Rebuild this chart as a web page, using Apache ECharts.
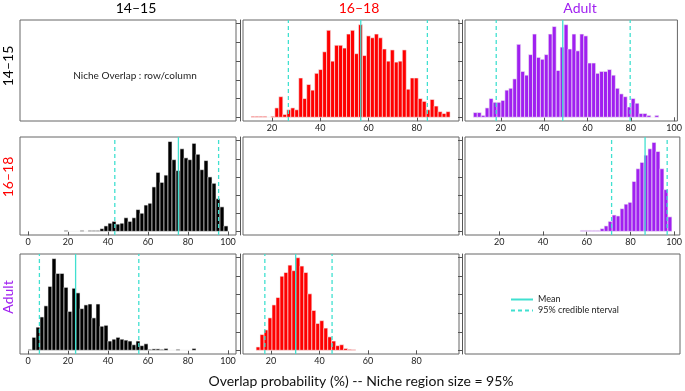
<!DOCTYPE html>
<html>
<head>
<meta charset="utf-8">
<script src="https://cdn.jsdelivr.net/npm/echarts@6/dist/echarts.min.js"></script>
<style>
    html, body { margin: 0; padding: 0; background: #fff; }
    #main { width: 685px; height: 391px; }
</style>
</head>
<body>
<div id="main"></div>
<script>
// 分组名称与颜色
const groupNames = ['14–15', '16–18', 'Adult'];
const groupColors = ['#000000', '#FF0000', '#A020F0'];

// 刻度
const yTicks = [0, 20, 40, 60, 80, 100];
const xTicksCol0 = [0, 20, 40, 60, 80, 100];
const xTicksCol1 = [20, 40, 60, 80];
const xTicksCol2 = [20, 40, 60, 80, 100];

// 行14-15 / 列16-18
const h01Start = 11.3, h01Width = 1.65;
const h01Counts = [1, 1, 1, 1, 0, 1, 10, 22, 3, 8, 10, 8, 42, 20, 35, 29, 47, 51, 70, 93,
    60, 77, 77, 74, 89, 93, 68, 99, 66, 87, 85, 89, 85, 73, 60, 72, 59, 60, 72, 30,
    42, 42, 20, 17, 8, 19, 12, 6, 4, 6];
const h01Mean = 56.8, h01Ci = [26.8, 84.4];

// 行14-15 / 列Adult
const h02Start = 7.35, h02Width = 1.82;
const h02Counts = [5, 5, 2, 10, 20, 16, 16, 18, 29, 31, 41, 78, 49, 45, 67, 89, 64, 62, 67, 89,
    97, 50, 75, 99, 73, 89, 71, 89, 87, 58, 58, 47, 49, 49, 51, 45, 31, 25, 22, 11,
    20, 15, 4, 4, 2, 0, 2];
const h02Mean = 48.6, h02Ci = [17.9, 79.7];

// 行16-18 / 列14-15
const h10Start = 18, h10Width = 2;
const h10Counts = [1, 0, 0, 0, 1, 0, 1, 1, 1, 3, 6, 9, 11, 8, 9, 15, 11, 15, 24, 20,
    29, 31, 49, 65, 54, 62, 99, 79, 67, 91, 81, 79, 97, 85, 68, 78, 60, 53, 36, 27, 6];
const h10Mean = 75.2, h10Ci = [43.4, 95.3];

// 行16-18 / 列Adult
const h12Start = 57.1, h12Width = 1.82;
const h12Counts = [1, 1, 1, 1, 1, 3, 6, 11, 18, 17, 25, 30, 32, 55, 69, 76, 84, 91, 98, 88,
    69, 46, 16];
const h12Mean = 86.7, h12Ci = [71.4, 96.8];

// 行Adult / 列14-15
const h20Start = 0, h20Width = 2;
const h20Counts = [1, 14, 25, 36, 48, 69, 99, 83, 83, 68, 42, 67, 62, 45, 49, 50, 35, 50, 26, 27,
    10, 12, 14, 12, 11, 10, 6, 10, 5, 7, 1, 1.5, 1.5, 1, 2, 0, 0, 1, 0, 0, 0, 2];
const h20Mean = 23.8, h20Ci = [5.7, 55.4];

// 行Adult / 列16-18
const h21Start = 13.9, h21Width = 1.64;
const h21Counts = [3.6, 17, 22, 35, 49, 57, 80, 84, 92, 86, 100, 91, 84, 61, 43, 29, 32, 24, 14.5, 10,
    5, 6, 2, 1, 0.7];
const h21Mean = 30.2, h21Ci = [17.5, 45.2];

// 布局
const colLeft = [20, 243, 465];
const colWidth = [216, 216, 215];
const rowTop = [20, 137, 254];
const rowHeight = [101, 98, 100];
const xRanges = [[-4, 104], [8, 97.5], [3.5, 101.5],
                 [-4, 104], [8, 97.5], [4.4, 102.6],
                 [-4, 104], [8.5, 97.5], [4, 102]];
const yRange = [-4, 104];
const lineColor = '#40E0D0';
const fontName = 'Lato, "Open Sans", sans-serif';

// 面板 -> 直方图
const panels = [
    { idx: 1, col: 1, start: h01Start, width: h01Width, counts: h01Counts, mean: h01Mean, ci: h01Ci },
    { idx: 2, col: 2, start: h02Start, width: h02Width, counts: h02Counts, mean: h02Mean, ci: h02Ci },
    { idx: 3, col: 0, start: h10Start, width: h10Width, counts: h10Counts, mean: h10Mean, ci: h10Ci },
    { idx: 5, col: 2, start: h12Start, width: h12Width, counts: h12Counts, mean: h12Mean, ci: h12Ci },
    { idx: 6, col: 0, start: h20Start, width: h20Width, counts: h20Counts, mean: h20Mean, ci: h20Ci },
    { idx: 7, col: 1, start: h21Start, width: h21Width, counts: h21Counts, mean: h21Mean, ci: h21Ci }
];
const histPanels = panels.map(p => p.idx);
const xTicksByCol = [xTicksCol0, xTicksCol1, xTicksCol2];

// 画直方柱
function renderBar(color) {
    return function (params, api) {
        const top = api.coord([api.value(0), api.value(2)]);
        const bottom = api.coord([api.value(1), 0]);
        return {
            type: 'rect',
            shape: { x: top[0], y: top[1], width: bottom[0] - top[0], height: bottom[1] - top[1] },
            style: { fill: color, stroke: '#f4f4f4', lineWidth: 0.6 }
        };
    };
}

const grids = [], xAxes = [], yAxes = [], series = [];
for (let r = 0; r < 3; r++) {
    for (let c = 0; c < 3; c++) {
        const i = r * 3 + c;
        grids.push({
            left: colLeft[c], top: rowTop[r], width: colWidth[c], height: rowHeight[r],
            show: true, borderColor: '#666', borderWidth: 1
        });
        const hasHist = histPanels.indexOf(i) >= 0;
        xAxes.push({
            type: 'value', gridIndex: i, min: xRanges[i][0], max: xRanges[i][1],
            axisLine: { show: false },
            splitLine: { show: false },
            axisTick: { show: hasHist, length: 4, customValues: xTicksByCol[c], lineStyle: { color: '#555' } },
            axisLabel: { show: hasHist, customValues: xTicksByCol[c], fontSize: 9, color: '#222', margin: 3, fontFamily: fontName }
        });
        yAxes.push({
            type: 'value', gridIndex: i, min: yRange[0], max: yRange[1], offset: 3,
            show: c > 0,
            axisLine: { show: true, lineStyle: { color: '#555' } },
            splitLine: { show: false },
            axisTick: { show: true, length: 4, customValues: yTicks, lineStyle: { color: '#555' } },
            axisLabel: { show: false }
        });
    }
}

panels.forEach(function (p) {
    const bins = p.counts.map((n, k) => [p.start + k * p.width, p.start + (k + 1) * p.width, n]);
    series.push({
        type: 'custom', xAxisIndex: p.idx, yAxisIndex: p.idx,
        renderItem: renderBar(groupColors[p.col]),
        encode: { x: [0, 1], y: 2 },
        data: bins, silent: true
    });
    series.push({
        name: 'Mean', type: 'line', xAxisIndex: p.idx, yAxisIndex: p.idx,
        data: [[p.mean, yRange[0]], [p.mean, yRange[1]]],
        symbol: 'none', silent: true, z: 5, itemStyle: { color: lineColor },
        lineStyle: { color: lineColor, width: 1.3 }
    });
    p.ci.forEach(function (v) {
        series.push({
            name: '95% credible nterval', type: 'line', xAxisIndex: p.idx, yAxisIndex: p.idx,
            data: [[v, yRange[0]], [v, yRange[1]]],
            symbol: 'none', silent: true, z: 5, itemStyle: { color: lineColor },
            lineStyle: { color: lineColor, width: 1.3, type: [4, 3] }
        });
    });
});

// 文本
const colTitleX = [136, 359, 580];
const rowTitleY = [66, 177, 297];
const graphics = [];
groupNames.forEach(function (name, k) {
    graphics.push({
        type: 'text', x: colTitleX[k], y: 8,
        style: { text: name, fill: k === 0 ? '#000' : groupColors[k], font: '14px ' + fontName, textAlign: 'center', textVerticalAlign: 'middle' }
    });
    graphics.push({
        type: 'text', x: 8, y: rowTitleY[k], rotation: Math.PI / 2,
        style: { text: name, fill: k === 0 ? '#000' : groupColors[k], font: '14px ' + fontName, textAlign: 'center', textVerticalAlign: 'middle' }
    });
});
graphics.push({
    type: 'text', x: 135, y: 76,
    style: { text: 'Niche Overlap : row/column', fill: '#222', font: '10px ' + fontName, textAlign: 'center', textVerticalAlign: 'middle' }
});
graphics.push({
    type: 'text', x: 361, y: 381,
    style: { text: 'Overlap probability (%) -- Niche region size = 95%', fill: '#111', font: '14px ' + fontName, textAlign: 'center', textVerticalAlign: 'middle' }
});

const chart = echarts.init(document.getElementById('main'));
chart.setOption({
    animation: false,
    backgroundColor: '#fff',
    grid: grids,
    xAxis: xAxes,
    yAxis: yAxes,
    legend: {
        data: ['Mean', '95% credible nterval'],
        orient: 'vertical', left: 505, top: 290,
        itemWidth: 22, itemHeight: 9, itemGap: 2,
        itemStyle: { opacity: 0 },
        textStyle: { fontSize: 9, color: '#222', fontFamily: fontName },
        selectedMode: false
    },
    graphic: graphics,
    series: series
});
</script>
</body>
</html>
